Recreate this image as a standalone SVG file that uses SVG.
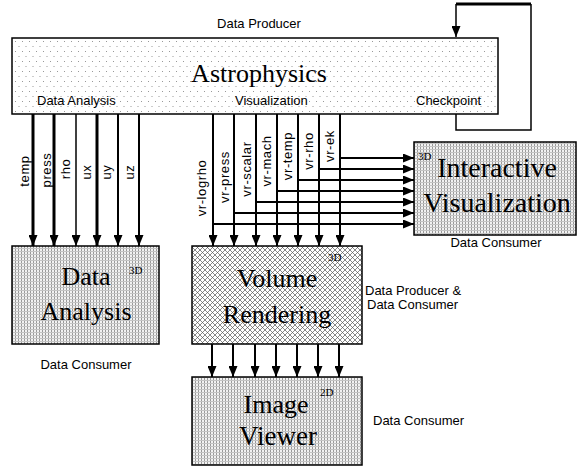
<svg xmlns="http://www.w3.org/2000/svg" width="584" height="468" viewBox="0 0 584 468">
<style>
.lbl{font-family:"Liberation Sans",Arial,sans-serif;font-size:13px;fill:#000}
.rot{letter-spacing:0.6px}
.big{font-family:"Liberation Serif","Times New Roman",serif;font-size:26px;fill:#000;text-anchor:middle}
.sup{font-family:"Liberation Serif","Times New Roman",serif;font-size:11px;fill:#000}
.box{stroke:#000;stroke-width:1.5}
.con{fill:none;stroke:#000;stroke-width:2}
.arr{marker-end:url(#ah)}
</style>
<defs>
<marker id="ah" markerUnits="userSpaceOnUse" markerWidth="11" markerHeight="9" refX="11" refY="4.5" orient="auto">
<path d="M0,0 L11,4.5 L0,9 z" fill="#000"/>
</marker>
<pattern id="dots" width="7" height="10" patternUnits="userSpaceOnUse">
<rect width="7" height="10" fill="#fff"/>
<rect x="1" y="1" width="1" height="1" fill="#999"/>
<rect x="4.5" y="6" width="1" height="1" fill="#999"/>
</pattern>
<pattern id="grid" width="3" height="3" patternUnits="userSpaceOnUse">
<rect width="3" height="3" fill="#f2f2f2"/>
<rect x="0" y="0" width="1" height="3" fill="#9a9a9a"/>
<rect x="0" y="2" width="3" height="1" fill="#c4c4c4"/>
</pattern>
<pattern id="hatch" width="5" height="5" patternUnits="userSpaceOnUse">
<rect width="5" height="5" fill="#fff"/>
<path d="M0,0 L5,5 M5,0 L0,5" stroke="#555" stroke-width="0.7"/>
</pattern>
</defs>

<g id="astrophysics">
<rect class="box" x="12" y="38" width="486" height="76" fill="url(#dots)"/>
<text class="big" x="259" y="82">Astrophysics</text>
<text class="lbl" x="37" y="105">Data Analysis</text>
<text class="lbl" x="235" y="105">Visualization</text>
<text class="lbl" x="416" y="105">Checkpoint</text>
<text class="lbl" x="259" y="28" text-anchor="middle">Data Producer</text>
</g>

<g id="data-analysis">
<rect class="box" x="12" y="246" width="147" height="98" fill="url(#grid)"/>
<text class="big" x="86" y="285">Data</text>
<text class="big" x="86" y="320">Analysis</text>
<text class="sup" x="129" y="274">3D</text>
<text class="lbl" x="86" y="369" text-anchor="middle">Data Consumer</text>
</g>

<g id="interactive-visualization">
<rect class="box" x="414" y="142" width="162" height="93" fill="url(#grid)"/>
<text class="big" x="497" y="177" style="font-size:28px">Interactive</text>
<text class="big" x="497" y="212" style="font-size:28px">Visualization</text>
<text class="sup" x="418" y="160">3D</text>
<text class="lbl" x="496" y="247" text-anchor="middle">Data Consumer</text>
</g>

<g id="volume-rendering">
<rect class="box" x="192" y="246" width="170" height="98" fill="url(#hatch)"/>
<text class="big" x="277" y="287">Volume</text>
<text class="big" x="277" y="323">Rendering</text>
<text class="sup" x="328" y="261">3D</text>
<text class="lbl" x="365" y="295">Data Producer &amp;</text>
<text class="lbl" x="367" y="309">Data Consumer</text>
</g>

<g id="image-viewer">
<rect class="box" x="192" y="377" width="170" height="88" fill="url(#grid)"/>
<text class="big" x="276" y="413">Image</text>
<text class="big" x="278" y="445" style="font-size:27px">Viewer</text>
<text class="sup" x="320" y="396">2D</text>
<text class="lbl" x="373" y="425">Data Consumer</text>
</g>

<g id="connectors">
<path class="con" d="M456,114 V130 H531 V4" style="stroke-width:1.5"/>
<path class="con" d="M531,4 H456" style="stroke-width:3"/>
<path class="con arr" d="M456,4 V37" style="stroke-width:1.5"/>

<line class="con arr" x1="33" y1="114" x2="33" y2="246" style="stroke-width:3"/>
<line class="con arr" x1="54" y1="114" x2="54" y2="246" style="stroke-width:3"/>
<line class="con arr" x1="76" y1="114" x2="76" y2="246" style="stroke-width:1.5"/>
<line class="con arr" x1="97" y1="114" x2="97" y2="246" style="stroke-width:3"/>
<line class="con arr" x1="118" y1="114" x2="118" y2="246"/>
<line class="con arr" x1="139" y1="114" x2="139" y2="246"/>

<line class="con arr" x1="213" y1="114" x2="213" y2="246"/>
<line class="con arr" x1="234" y1="114" x2="234" y2="246"/>
<line class="con arr" x1="256" y1="114" x2="256" y2="246"/>
<line class="con arr" x1="277" y1="114" x2="277" y2="246"/>
<line class="con arr" x1="298" y1="114" x2="298" y2="246"/>
<line class="con arr" x1="319" y1="114" x2="319" y2="246"/>
<line class="con arr" x1="340" y1="114" x2="340" y2="246"/>

<line class="con arr" x1="213" y1="224" x2="414" y2="224"/>
<line class="con arr" x1="234" y1="213" x2="414" y2="213"/>
<line class="con arr" x1="256" y1="202" x2="414" y2="202"/>
<line class="con arr" x1="277" y1="191" x2="414" y2="191"/>
<line class="con arr" x1="298" y1="180" x2="414" y2="180"/>
<line class="con arr" x1="319" y1="169" x2="414" y2="169"/>
<line class="con arr" x1="340" y1="158" x2="414" y2="158"/>

<line class="con arr" x1="212" y1="344" x2="212" y2="377"/>
<line class="con arr" x1="233" y1="344" x2="233" y2="377"/>
<line class="con arr" x1="255" y1="344" x2="255" y2="377"/>
<line class="con arr" x1="276" y1="344" x2="276" y2="377"/>
<line class="con arr" x1="297" y1="344" x2="297" y2="377"/>
<line class="con arr" x1="318" y1="344" x2="318" y2="377"/>
<line class="con arr" x1="339" y1="344" x2="339" y2="377"/>

<g class="lbl rot" text-anchor="middle">
<text transform="translate(29,171) rotate(-90)">temp</text>
<text transform="translate(50.5,170) rotate(-90)">press</text>
<text transform="translate(70,169) rotate(-90)">rho</text>
<text transform="translate(91,172) rotate(-90)">ux</text>
<text transform="translate(111,172) rotate(-90)">uy</text>
<text transform="translate(134,172) rotate(-90)">uz</text>
<text transform="translate(206,188) rotate(-90)">vr-logrho</text>
<text transform="translate(229,177) rotate(-90)">vr-press</text>
<text transform="translate(250.5,169) rotate(-90)">vr-scalar</text>
<text transform="translate(271,161) rotate(-90)">vr-mach</text>
<text transform="translate(291.5,156) rotate(-90)">vr-temp</text>
<text transform="translate(312.5,151) rotate(-90)">vr-rho</text>
<text transform="translate(334,146) rotate(-90)">vr-ek</text>
</g>
</g>
</svg>
